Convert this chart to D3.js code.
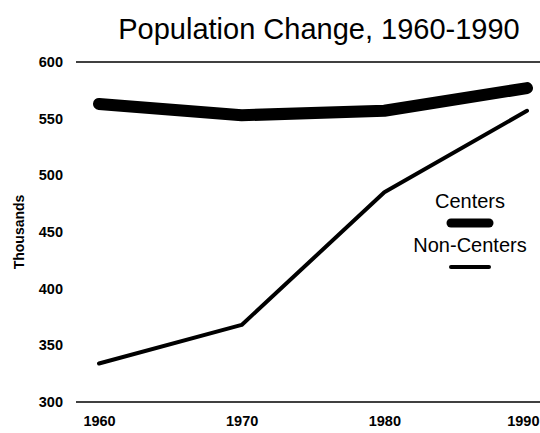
<!DOCTYPE html>
<html><head><meta charset="utf-8">
<script src="https://cdn.jsdelivr.net/npm/d3@7"></script>
<style>body{margin:0;background:#fff}svg{display:block}text{font-family:"Liberation Sans",Arial,sans-serif;fill:#000}</style>
</head><body>
<svg id="c" width="540" height="433"></svg>
<script>
const years = [1960, 1970, 1980, 1990];
const centers = [563, 553, 557, 577];
const nonCenters = [334, 368, 485, 557];
const yTicks = [300, 350, 400, 450, 500, 550, 600];
const xTicks = [1960, 1970, 1980, 1990];
const title = "Population Change, 1960-1990";
const yLabel = "Thousands";
const legendNames = ["Centers", "Non-Centers"];

const svg = d3.select("#c");
const x = d3.scaleLinear().domain([1960, 1990]).range([99, 527]);
const y = d3.scaleLinear().domain([300, 600]).range([402, 62]);

svg.append("text").attr("x", 319).attr("y", 39).attr("text-anchor", "middle")
  .style("font-size", "29px").text(title);

// horizontal frame lines at 600 and 300
[600, 300].forEach(v => {
  svg.append("line").attr("x1", 76).attr("x2", 540)
    .attr("y1", y(v)).attr("y2", y(v)).attr("stroke", "#000").attr("stroke-width", 1.4);
});

// y axis labels
const yAxis = d3.axisLeft(y).tickValues(yTicks).tickSize(0).tickPadding(0);
const gy = svg.append("g").attr("transform", "translate(63,0)").call(yAxis);
gy.select(".domain").remove();
gy.selectAll("text").style("font-size", "14.5px").style("font-weight", "bold")
  .style("font-family", '"Liberation Sans",Arial,sans-serif').attr("fill", "#000");

// x axis labels
const xAxis = d3.axisBottom(x).tickValues(xTicks).tickFormat(d3.format("d")).tickSize(0).tickPadding(0);
const gx = svg.append("g").attr("transform", "translate(0,416)").call(xAxis);
gx.select(".domain").remove();
gx.selectAll("text").style("font-size", "14.5px").style("font-weight", "bold")
  .style("font-family", '"Liberation Sans",Arial,sans-serif').attr("fill", "#000");
// keep the last label inside the picture
gx.selectAll(".tick").filter(d => d === 1990).select("text").attr("text-anchor", "end").attr("x", 12);

svg.append("text").attr("transform", "translate(24,232) rotate(-90)").attr("text-anchor", "middle")
  .style("font-size", "14px").style("font-weight", "bold").text(yLabel);

const line = d3.line().x((d, i) => x(years[i])).y(d => y(d));
svg.append("path").datum(centers).attr("d", line).attr("fill", "none")
  .attr("stroke", "#000").attr("stroke-width", 12).attr("stroke-linecap", "round").attr("stroke-linejoin", "round");
svg.append("path").datum(nonCenters).attr("d", line).attr("fill", "none")
  .attr("stroke", "#000").attr("stroke-width", 4).attr("stroke-linecap", "round").attr("stroke-linejoin", "round");

// legend
svg.append("text").attr("x", 470).attr("y", 208).attr("text-anchor", "middle")
  .style("font-size", "20px").text(legendNames[0]);
svg.append("line").attr("x1", 451).attr("x2", 489).attr("y1", 223).attr("y2", 223)
  .attr("stroke", "#000").attr("stroke-width", 9).attr("stroke-linecap", "round");
svg.append("text").attr("x", 470).attr("y", 252).attr("text-anchor", "middle")
  .style("font-size", "20px").text(legendNames[1]);
svg.append("line").attr("x1", 451).attr("x2", 489).attr("y1", 267).attr("y2", 267)
  .attr("stroke", "#000").attr("stroke-width", 4).attr("stroke-linecap", "round");
</script>
</body></html>
